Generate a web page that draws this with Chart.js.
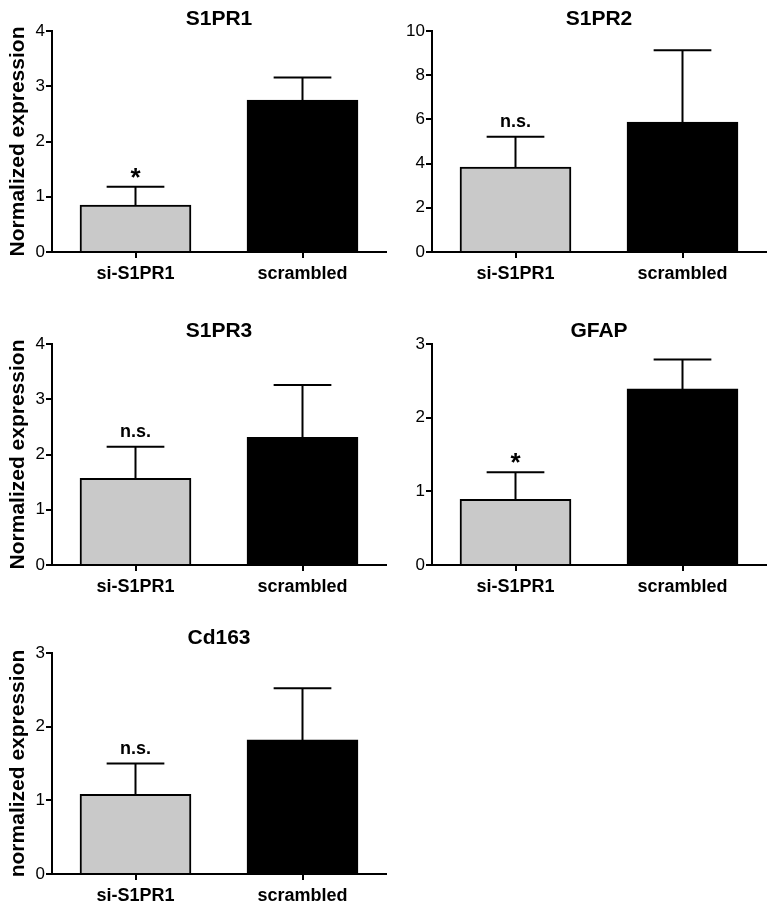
<!DOCTYPE html>
<html>
<head>
<meta charset="utf-8">
<script src="https://cdn.jsdelivr.net/npm/chart.js@4.4.1/dist/chart.umd.min.js"></script>
<style>
  html, body { margin: 0; padding: 0; background: #ffffff; }
  #wrap { position: relative; width: 774px; height: 907px; overflow: hidden; }
  #wrap canvas { position: absolute; left: 0; top: 0; }
</style>
</head>
<body>
<div id="wrap">
  <canvas id="c0" width="774" height="907"></canvas>
  <canvas id="c1" width="774" height="907"></canvas>
  <canvas id="c2" width="774" height="907"></canvas>
  <canvas id="c3" width="774" height="907"></canvas>
  <canvas id="c4" width="774" height="907"></canvas>
</div>
<script>
// ---------- data ----------
const categories = ['si-S1PR1', 'scrambled'];
const panelTitles = ['S1PR1', 'S1PR2', 'S1PR3', 'GFAP', 'Cd163'];
const yAxisTitles = ['Normalized expression', '', 'Normalized expression', '', 'normalized expression'];
const siS1PR1Mean = [0.85, 3.84, 1.57, 0.89, 1.08];
const siS1PR1Err = [0.33, 1.37, 0.57, 0.37, 0.42];
const scrambledMean = [2.75, 5.88, 2.31, 2.39, 1.82];
const scrambledErr = [0.41, 3.25, 0.95, 0.40, 0.70];
const yMax = [4, 10, 4, 3, 3];
const yStep = [1, 2, 1, 1, 1];
const significance = ['*', 'n.s.', 'n.s.', '*', 'n.s.'];

// ---------- layout (page pixels) ----------
const frames = [
  { L: 52,  R: 386, T: 31,  B: 252, titleY: 19.5, padLeft: 6 },
  { L: 432, R: 766, T: 31,  B: 252, titleY: 19.5, padLeft: 390 },
  { L: 52,  R: 386, T: 344, B: 565, titleY: 331,  padLeft: 6 },
  { L: 432, R: 766, T: 344, B: 565, titleY: 331,  padLeft: 390 },
  { L: 52,  R: 386, T: 653, B: 874, titleY: 638,  padLeft: 6 }
];
const PAGE_W = 774, PAGE_H = 907;
const X_AXIS_H = 30;
const FONT = "'Liberation Sans', Arial, Helvetica, sans-serif";
const TITLE_SIZE = 21;
const TITLE_LH = TITLE_SIZE * 1.2;

Chart.defaults.font.family = FONT;
Chart.defaults.color = '#000000';

const errorBarPlugin = {
  id: 'errorBars',
  afterDatasetsDraw(chart, args, opts) {
    const ctx = chart.ctx;
    const y = chart.scales.y;
    const meta = chart.getDatasetMeta(0);
    const values = chart.data.datasets[0].data;
    ctx.save();
    ctx.strokeStyle = '#000000';
    ctx.lineWidth = 2;
    ctx.lineCap = 'butt';
    meta.data.forEach((bar, i) => {
      const mean = values[i];
      const err = opts.errors[i];
      const yb = y.getPixelForValue(mean);
      const yt = y.getPixelForValue(mean + err);
      const half = bar.width * 0.26;
      ctx.beginPath();
      ctx.moveTo(bar.x, yb);
      ctx.lineTo(bar.x, yt);
      ctx.moveTo(bar.x - half, yt);
      ctx.lineTo(bar.x + half, yt);
      ctx.stroke();
      if (i === 0 && opts.label) {
        ctx.fillStyle = '#000000';
        ctx.textAlign = 'center';
        ctx.textBaseline = 'alphabetic';
        if (opts.label === '*') {
          ctx.font = 'bold 26px ' + FONT;
          ctx.fillText(opts.label, bar.x, yt - 1);
        } else {
          ctx.font = 'bold 18px ' + FONT;
          ctx.fillText(opts.label, bar.x, yt - 10);
        }
      }
    });
    ctx.restore();
  }
};

frames.forEach((f, p) => {
  const hasYTitle = yAxisTitles[p] !== '';
  const yAxisWidth = f.L - f.padLeft;
  new Chart(document.getElementById('c' + p), {
    type: 'bar',
    data: {
      labels: categories,
      datasets: [{
        data: [siS1PR1Mean[p], scrambledMean[p]],
        backgroundColor: ['#c9c9c9', '#000000'],
        borderColor: '#000000',
        borderWidth: 2,
        borderSkipped: 'bottom',
        barThickness: 111
      }]
    },
    options: {
      responsive: false,
      animation: false,
      devicePixelRatio: 1,
      events: [],
      layout: {
        padding: {
          left: f.padLeft,
          right: PAGE_W - f.R,
          top: f.titleY - TITLE_LH / 2,
          bottom: PAGE_H - f.B - X_AXIS_H
        }
      },
      plugins: {
        legend: { display: false },
        tooltip: { enabled: false },
        title: {
          display: true,
          text: panelTitles[p],
          fullSize: false,
          font: { size: TITLE_SIZE, weight: 'bold', lineHeight: 1.2 },
          color: '#000000',
          padding: { top: 0, bottom: f.T - f.titleY - TITLE_LH / 2 }
        },
        errorBars: {
          errors: [siS1PR1Err[p], scrambledErr[p]],
          label: significance[p]
        }
      },
      scales: {
        x: {
          type: 'category',
          offset: true,
          afterFit(scale) { scale.height = X_AXIS_H; },
          grid: {
            display: true,
            offset: false,
            drawOnChartArea: false,
            drawTicks: true,
            tickLength: 6,
            tickWidth: 2,
            color: '#000000',
            lineWidth: 2
          },
          border: { display: true, color: '#000000', width: 2 },
          ticks: {
            font: { size: 18, weight: 'bold' },
            color: '#000000',
            padding: 5,
            maxRotation: 0
          }
        },
        y: {
          min: 0,
          max: yMax[p],
          afterFit(scale) { scale.width = yAxisWidth; },
          grid: {
            display: true,
            drawOnChartArea: false,
            drawTicks: true,
            tickLength: 6,
            tickWidth: 2,
            color: '#000000',
            lineWidth: 2
          },
          border: { display: true, color: '#000000', width: 2 },
          ticks: {
            stepSize: yStep[p],
            font: { size: 17 },
            color: '#000000',
            padding: 1
          },
          title: {
            display: hasYTitle,
            text: yAxisTitles[p],
            font: { size: 21, weight: 'bold', lineHeight: 1.2 },
            color: '#000000',
            padding: 0
          }
        }
      }
    },
    plugins: [errorBarPlugin]
  });
});
</script>
</body>
</html>
